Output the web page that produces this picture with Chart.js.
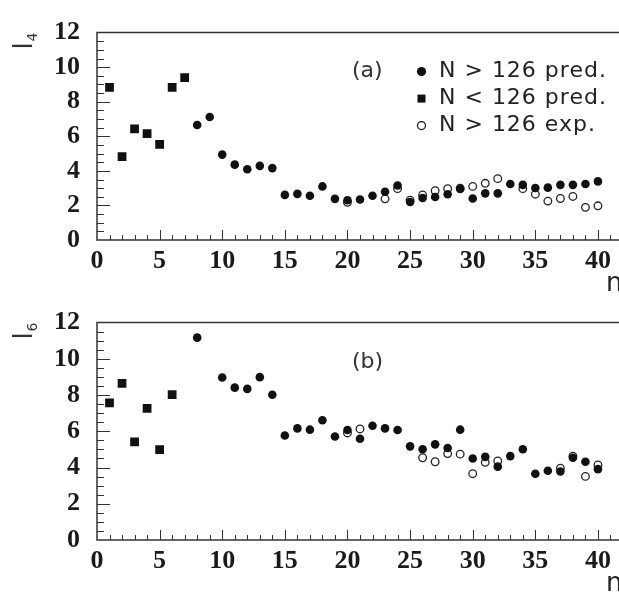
<!DOCTYPE html>
<html>
<head>
<meta charset="utf-8">
<script src="https://cdn.jsdelivr.net/npm/chart.js@4.4.1/dist/chart.umd.min.js"></script>
<style>
  html, body { margin: 0; padding: 0; background: #fff; overflow: hidden; }
  #wrap { position: relative; width: 619px; height: 592px; overflow: hidden; }
  canvas { position: absolute; left: 0; }
</style>
</head>
<body>
<div id="wrap">
  <canvas id="chartA" width="630" height="296" style="top:0"></canvas>
  <canvas id="chartB" width="630" height="302" style="top:290px"></canvas>
</div>
<script>
'use strict';

// panel (a): l4
let nLow4 = [1, 2, 3, 4, 5, 6, 7];
let l4Low = [8.83, 4.83, 6.43, 6.16, 5.53, 8.83, 9.39];
let nHigh4 = [8, 9, 10, 11, 12, 13, 14, 15, 16, 17, 18, 19, 20, 21, 22, 23, 24, 25, 26, 27, 28, 29, 30, 31, 32, 33, 34, 35, 36, 37, 38, 39, 40];
let l4High = [6.65, 7.12, 4.94, 4.36, 4.09, 4.29, 4.16, 2.61, 2.67, 2.56, 3.10, 2.38, 2.30, 2.34, 2.56, 2.79, 3.15, 2.20, 2.43, 2.49, 2.65, 2.95, 2.40, 2.70, 2.70, 3.24, 3.19, 3.01, 3.03, 3.19, 3.19, 3.24, 3.39];
let nExp4 = [20, 23, 24, 25, 26, 27, 28, 29, 30, 31, 32, 34, 35, 36, 37, 38, 39, 40];
let l4Exp = [2.18, 2.38, 2.97, 2.30, 2.61, 2.85, 2.97, 3.00, 3.10, 3.28, 3.55, 2.97, 2.65, 2.25, 2.40, 2.52, 1.89, 1.98];

// panel (b): l6
let nLow6 = [1, 2, 3, 4, 5, 6];
let l6Low = [7.57, 8.65, 5.41, 7.26, 4.99, 8.02];
let nHigh6 = [8, 10, 11, 12, 13, 14, 15, 16, 17, 18, 19, 20, 21, 22, 23, 24, 25, 26, 27, 28, 29, 30, 31, 32, 33, 34, 35, 36, 37, 38, 39, 40];
let l6High = [11.17, 8.97, 8.41, 8.34, 8.99, 8.02, 5.77, 6.16, 6.09, 6.61, 5.71, 6.07, 5.59, 6.31, 6.16, 6.07, 5.17, 5.01, 5.28, 5.08, 6.09, 4.50, 4.59, 4.05, 4.63, 5.01, 3.66, 3.82, 3.78, 4.54, 4.32, 3.91];
let nExp6 = [20, 21, 26, 27, 28, 29, 30, 31, 32, 37, 38, 39, 40];
let l6Exp = [5.91, 6.13, 4.54, 4.32, 4.77, 4.74, 3.66, 4.29, 4.36, 3.96, 4.63, 3.51, 4.14];

let legendLabels = ['N > 126 pred.', 'N < 126 pred.', 'N > 126 exp.'];
let xTicks = [0, 5, 10, 15, 20, 25, 30, 35, 40];
let yTicks = [0, 2, 4, 6, 8, 10, 12];

function toPoints(xs, ys){
  let pts = [];
  for(let i = 0; i < xs.length; i++){
    pts.push({x: xs[i], y: ys[i]});
  }
  return pts;
}

// inward ticks + frame, drawn under the markers
let frameTicks = {
  id: 'frameTicks',
  beforeDatasetsDraw(chart){
    let ctx = chart.ctx;
    let a = chart.chartArea;
    let x = chart.scales.x;
    let y = chart.scales.y;
    ctx.save();
    ctx.strokeStyle = '#333';
    ctx.lineWidth = 1;
    ctx.beginPath();
    for(let n = 1; n <= 42; n++){
      let px = Math.round(x.getPixelForValue(n)) + 0.5;
      let len = n % 5 === 0 ? 10 : 5;
      ctx.moveTo(px, a.bottom);
      ctx.lineTo(px, a.bottom - len);
    }
    for(let k = 1; k < 24; k++){
      let v = k / 2;
      let py = Math.round(y.getPixelForValue(v)) + 0.5;
      let len = k % 4 === 0 ? 13 : 7;
      ctx.moveTo(a.left, py);
      ctx.lineTo(a.left + len, py);
    }
    ctx.stroke();
    ctx.lineWidth = 1.5;
    ctx.beginPath();
    ctx.moveTo(a.right, a.top);
    ctx.lineTo(a.left, a.top);
    ctx.lineTo(a.left, a.bottom);
    ctx.lineTo(a.right, a.bottom);
    ctx.stroke();
    ctx.restore();
  }
};

// axis titles, panel tag and legend
let panelText = {
  id: 'panelText',
  afterDraw(chart, args, opts){
    let ctx = chart.ctx;
    let a = chart.chartArea;
    ctx.save();
    ctx.fillStyle = '#333';
    // rotated y title: l with subscript
    ctx.translate(32, a.top + 17);
    ctx.rotate(-Math.PI / 2);
    ctx.textBaseline = 'alphabetic';
    ctx.font = '26px "DejaVu Sans"';
    ctx.fillText('l', 0, 0);
    ctx.font = '14px "DejaVu Sans"';
    ctx.fillText(opts.sub, 8, 5);
    ctx.restore();

    ctx.save();
    ctx.fillStyle = '#222';
    ctx.font = '26px "DejaVu Sans"';
    ctx.textBaseline = 'alphabetic';
    ctx.fillText('n', 606, opts.nBase);

    ctx.font = '22px "DejaVu Sans"';
    ctx.fillStyle = '#333';
    ctx.textBaseline = 'middle';
    ctx.fillText(opts.tag, 352, a.top + opts.tagDy);

    if(opts.legend){
      let rows = [a.top + 39, a.top + 66, a.top + 93];
      for(let i = 0; i < 3; i++){
        let cy = rows[i];
        ctx.fillStyle = '#111';
        ctx.strokeStyle = '#111';
        ctx.beginPath();
        if(i === 0){
          ctx.arc(421.5, cy, 4.6, 0, Math.PI * 2);
          ctx.fill();
        } else if(i === 1){
          ctx.fillRect(417.5, cy - 4, 8, 8);
        } else {
          ctx.lineWidth = 1.2;
          ctx.arc(421.5, cy, 4, 0, Math.PI * 2);
          ctx.stroke();
        }
        ctx.fillStyle = '#222';
        ctx.font = '22px "DejaVu Sans"';
        ctx.letterSpacing = '1px';
        ctx.fillText(legendLabels[i], 439, cy);
        ctx.letterSpacing = '0px';
      }
    }
    ctx.restore();
  }
};

function makePanel(canvasId, low, high, exp, padTop, plotBottom, textOpts){
  let canvas = document.getElementById(canvasId);
  let h = canvas.height;
  return new Chart(canvas, {
    type: 'scatter',
    data: {
      datasets: [
        {
          label: legendLabels[0],
          data: high,
          pointStyle: 'circle',
          pointRadius: 4.3,
          backgroundColor: '#111',
          borderColor: '#111',
          borderWidth: 0,
          order: 0
        },
        {
          label: legendLabels[1],
          data: low,
          pointStyle: 'rect',
          pointRadius: 6.2,
          backgroundColor: '#111',
          borderColor: '#111',
          borderWidth: 0,
          order: 1
        },
        {
          label: legendLabels[2],
          data: exp,
          pointStyle: 'circle',
          pointRadius: 3.8,
          backgroundColor: '#fff',
          borderColor: '#222',
          borderWidth: 1.3,
          order: 2
        }
      ]
    },
    options: {
      responsive: false,
      animation: false,
      layout: { padding: { left: 0, right: 7, top: padTop, bottom: 0 } },
      plugins: {
        legend: { display: false },
        tooltip: { enabled: false },
        panelText: textOpts
      },
      scales: {
        x: {
          type: 'linear',
          min: 0,
          max: 42,
          afterFit(scale){ scale.height = h - plotBottom; },
          afterBuildTicks(scale){ scale.ticks = xTicks.map(v => ({value: v})); },
          grid: { display: false, drawTicks: false },
          border: { display: false },
          ticks: {
            padding: 6,
            color: '#1a1a1a',
            font: { family: '"Liberation Serif"', size: 26, weight: 'bold' }
          }
        },
        y: {
          min: 0,
          max: 12,
          afterFit(scale){ scale.width = 97; },
          afterBuildTicks(scale){ scale.ticks = yTicks.map(v => ({value: v})); },
          grid: { display: false, drawTicks: false },
          border: { display: false },
          ticks: {
            padding: 17,
            color: '#1a1a1a',
            font: { family: '"Liberation Serif"', size: 26, weight: 'bold' }
          }
        }
      }
    },
    plugins: [frameTicks, panelText]
  });
}

makePanel('chartA', toPoints(nLow4, l4Low), toPoints(nHigh4, l4High), toPoints(nExp4, l4Exp), 18, 240,
  { sub: '4', tag: '(a)', tagDy: 39, nBase: 291, legend: true });
makePanel('chartB', toPoints(nLow6, l6Low), toPoints(nHigh6, l6High), toPoints(nExp6, l6Exp), 28, 250,
  { sub: '6', tag: '(b)', tagDy: 40, nBase: 301, legend: false });
</script>
</body>
</html>
